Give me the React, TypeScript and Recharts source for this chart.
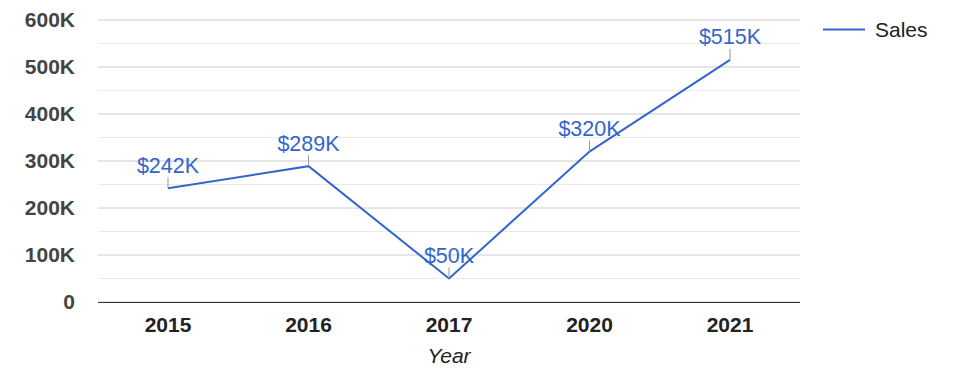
import React from 'react';
import { LineChart, Line, XAxis, YAxis, CartesianGrid, ReferenceLine, LabelList } from 'recharts';

const years = ['2015', '2016', '2017', '2020', '2021'];
const sales = [242000, 289000, 50000, 320000, 515000];
const salesLabels = ['$242K', '$289K', '$50K', '$320K', '$515K'];
const yTicks = [0, 100000, 200000, 300000, 400000, 500000, 600000];
const yMinorTicks = [50000, 150000, 250000, 350000, 450000, 550000];
const yTickLabels = ['0', '100K', '200K', '300K', '400K', '500K', '600K'];
const seriesName = 'Sales';

const data = years.map((y, i) => ({ year: y, sales: sales[i], label: salesLabels[i] }));

const FONT = "Arial, 'Liberation Sans', sans-serif";
const BLUE = '#3366cc';

const PointLabel = (props: any) => {
  const { x, y, index } = props;
  return (
    <g>
      <line x1={x} y1={y} x2={x} y2={y - 11} stroke="#999" strokeWidth={1} />
      <text x={x} y={y - 15.5} textAnchor="middle" fill={BLUE} fontSize={21.5} fontFamily={FONT}>
        {salesLabels[index]}
      </text>
    </g>
  );
};

const YearLabel = (props: any) => {
  const vb = props.viewBox || {};
  return (
    <text x={vb.x + vb.width / 2} y={vb.y + 61} textAnchor="middle" fill="#222" fontSize={21} fontStyle="italic" fontFamily={FONT}>
      Year
    </text>
  );
};

export default function App() {
  return (
    <div style={{ position: 'absolute', left: 0, top: 0, width: 975, height: 378, background: '#fff' }}>
      <LineChart width={975} height={378} data={data} margin={{ top: 20, right: 175, left: 0, bottom: 0 }}>
        <CartesianGrid vertical={false} stroke="#cccccc" />
        {yMinorTicks.map((v) => (
          <ReferenceLine key={v} y={v} stroke="#ebebeb" strokeWidth={1} />
        ))}
        <XAxis
          dataKey="year"
          height={76}
          padding={{ left: 70, right: 70 }}
          tickLine={false}
          tickSize={0}
          tickMargin={15}
          axisLine={{ stroke: '#333', strokeWidth: 1, shapeRendering: 'crispEdges' }}
          tick={{ fill: '#222', fontSize: 21, fontWeight: 'bold', fontFamily: FONT }}
          label={<YearLabel />}
        />
        <YAxis
          width={98}
          domain={[0, 600000]}
          ticks={yTicks}
          tickFormatter={(v: number) => yTickLabels[yTicks.indexOf(v)]}
          axisLine={false}
          tickLine={false}
          tickSize={0}
          tickMargin={23}
          tick={{ fill: '#444', fontSize: 21, fontWeight: 'bold', fontFamily: FONT }}
        />
        <Line
          type="linear"
          dataKey="sales"
          name={seriesName}
          stroke={BLUE}
          strokeWidth={2}
          dot={false}
          activeDot={false}
          isAnimationActive={false}
        >
          <LabelList dataKey="label" content={<PointLabel />} />
        </Line>
      </LineChart>
      <svg style={{ position: 'absolute', left: 823, top: 17 }} width={140} height={30}>
        <line x1={0} y1={12.5} x2={42} y2={12.5} stroke={BLUE} strokeWidth={2} />
        <text x={52} y={19.5} fill="#222" fontSize={21} fontFamily={FONT}>{seriesName}</text>
      </svg>
    </div>
  );
}
